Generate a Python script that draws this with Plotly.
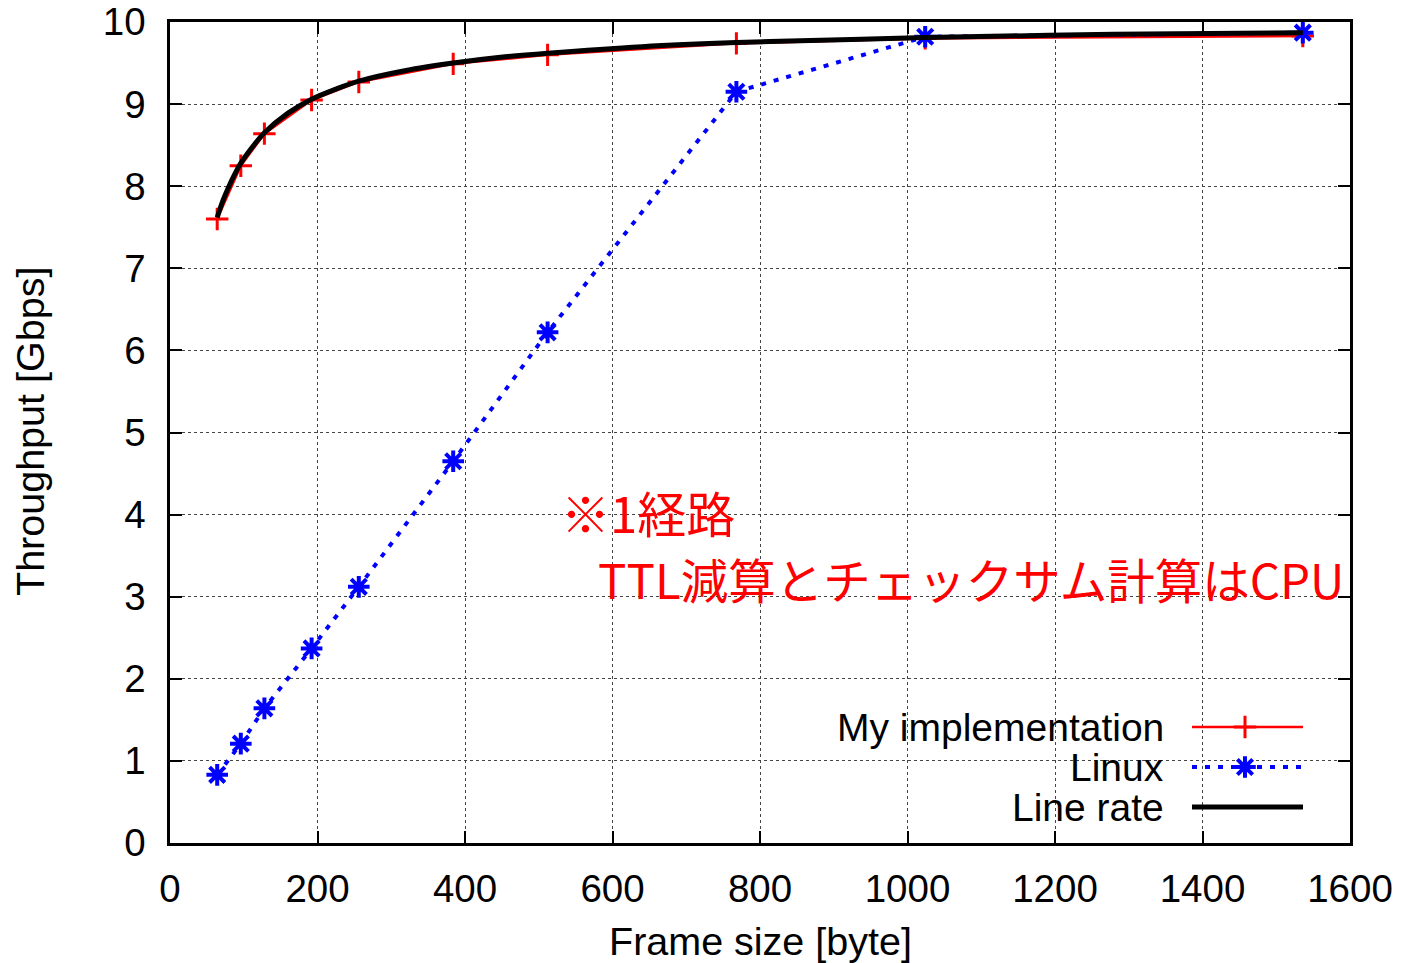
import plotly.graph_objects as go

frame_sizes = [64, 96, 128, 192, 256, 384, 512, 768, 1024, 1536]
my_impl = [7.60, 8.25, 8.64, 9.05, 9.27, 9.49, 9.60, 9.74, 9.80, 9.83]
linux = [0.83, 1.21, 1.64, 2.37, 3.12, 4.65, 6.22, 9.15, 9.82, 9.87]

line_rate_x = [64, 72, 80, 88, 96, 112, 128, 160, 192, 224, 256, 320, 384, 448, 512, 640, 768, 896, 1024, 1280, 1536]
line_rate_y = [7.62, 7.83, 8.00, 8.15, 8.28, 8.48, 8.65, 8.89, 9.06, 9.18, 9.28, 9.41, 9.50, 9.57, 9.62, 9.70, 9.75, 9.78, 9.81, 9.85, 9.87]

x_ticks = [0, 200, 400, 600, 800, 1000, 1200, 1400, 1600]
y_ticks = [0, 1, 2, 3, 4, 5, 6, 7, 8, 9, 10]

series_names = ["My implementation", "Linux", "Line rate"]
x_title = "Frame size [byte]"
y_title = "Throughput [Gbps]"
note_line1 = "※1経路"
note_line2 = "TTL減算とチェックサム計算はCPU"

FONT = "Liberation Sans, Arial, sans-serif"
CJK = "Noto Sans CJK JP"
RED = "#ff0000"
BLUE = "#0000ff"

# page has a default body margin; size the figure to fit the window
OFF = 8
W, H = 1404 - OFF, 963 - OFF
L, T = 170 - OFF, 22 - OFF
R = W - (1350 - OFF)
B = H - (843 - OFF)
pw, ph = W - L - R, H - T - B


def px_to_paper(sx, sy):
    return (sx - OFF - L) / pw, (H - B - (sy - OFF)) / ph


red_line = dict(color=RED, width=2.5)
red_marker = dict(symbol="cross-thin", size=16, color=RED, line=dict(color=RED, width=3))
blue_line = dict(color=BLUE, width=4, dash="5px,8px")
blue_marker = dict(symbol="asterisk-open", size=18, color=BLUE, line=dict(color=BLUE, width=4))
black_line = dict(color="black", width=5)

fig = go.Figure()

fig.add_trace(go.Scatter(
    x=frame_sizes, y=my_impl, mode="lines+markers", name=series_names[0],
    line=red_line, marker=red_marker, showlegend=False))
fig.add_trace(go.Scatter(
    x=frame_sizes, y=linux, mode="lines+markers", name=series_names[1],
    line=blue_line, marker=blue_marker, showlegend=False))
fig.add_trace(go.Scatter(
    x=line_rate_x, y=line_rate_y, mode="lines", name=series_names[2],
    line=dict(black_line, shape="spline"), showlegend=False))

# Gnuplot-style legend: right-aligned text, samples to the right (on hidden overlay axes)
legend_rows_px = [727, 767, 807]
sx0, _ = px_to_paper(1192, 0)
sx1, _ = px_to_paper(1303, 0)
smid, _ = px_to_paper(1245, 0)
tx, _ = px_to_paper(1166, 0)
styles = [(red_line, red_marker), (blue_line, blue_marker), (black_line, None)]
for name, ypx, (ln, mk) in zip(series_names, legend_rows_px, styles):
    _, yy = px_to_paper(0, ypx)
    fig.add_trace(go.Scatter(
        x=[sx0, sx1], y=[yy, yy], mode="lines", line=ln,
        xaxis="x2", yaxis="y2", showlegend=False, hoverinfo="skip"))
    if mk is not None:
        fig.add_trace(go.Scatter(
            x=[smid], y=[yy], mode="markers", marker=mk,
            xaxis="x2", yaxis="y2", showlegend=False, hoverinfo="skip"))
    fig.add_annotation(
        x=tx, y=yy, xref="x2", yref="y2", text=name, showarrow=False,
        xanchor="right", yanchor="middle",
        font=dict(family=FONT, size=39, color="black"))

fig.add_annotation(
    x=527, y=4.04, xref="x", yref="y", text=note_line1, showarrow=False,
    xanchor="left", yanchor="middle",
    font=dict(family=CJK, size=49, color=RED))
fig.add_annotation(
    x=578, y=3.22, xref="x", yref="y", text=note_line2, showarrow=False,
    xanchor="left", yanchor="middle",
    font=dict(family=CJK, size=47.5, color=RED))

# axis titles
xt = px_to_paper(760, 941)
yt = px_to_paper(30, 432)
fig.add_annotation(
    x=xt[0], y=xt[1], xref="paper", yref="paper", text=x_title, showarrow=False,
    xanchor="center", yanchor="middle", font=dict(family=FONT, size=39.5, color="black"))
fig.add_annotation(
    x=yt[0], y=yt[1], xref="paper", yref="paper", text=y_title, showarrow=False, textangle=-90,
    xanchor="center", yanchor="middle", font=dict(family=FONT, size=39.5, color="black"))

axis_common = dict(
    showline=True, linecolor="black", linewidth=2.5, mirror="ticks",
    ticks="inside", ticklen=12, tickwidth=2, tickcolor="black",
    showgrid=True, gridcolor="#444444", gridwidth=1, griddash="dot",
    zeroline=False, automargin=False, ticklabeloverflow="allow",
    tickfont=dict(family=FONT, size=38.5, color="black"),
)

fig.update_layout(
    width=W, height=H,
    margin=dict(l=L, r=R, t=T, b=B),
    paper_bgcolor="white", plot_bgcolor="white",
    xaxis=dict(range=[0, 1600], tickvals=x_ticks, ticklabelstandoff=10, **axis_common),
    yaxis=dict(range=[0, 10], tickvals=y_ticks, ticklabelstandoff=14, **axis_common),
    xaxis2=dict(range=[0, 1], overlaying="x", visible=False),
    yaxis2=dict(range=[0, 1], overlaying="y", visible=False),
)

fig.write_html("out.html")
